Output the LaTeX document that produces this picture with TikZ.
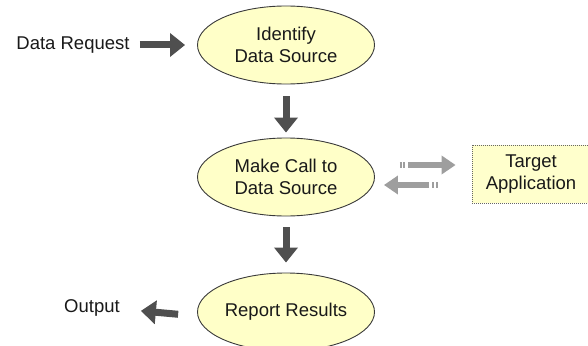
\documentclass[tikz,border=0pt]{standalone}
\usepackage{fontspec}
\setmainfont{Liberation Sans}
\usetikzlibrary{shapes.geometric,arrows.meta}
\definecolor{ellfill}{HTML}{FFFFC8}
\definecolor{boxfill}{HTML}{FFFFCC}
\definecolor{darkarrow}{HTML}{4F4F4F}
\definecolor{greyarrow}{HTML}{9E9E9E}
\definecolor{edge}{HTML}{3A3A3A}
\tikzset{
  txt/.style={font=\fontsize{18.5}{22}\selectfont, text=black!90, align=center},
  stepell/.style={ellipse, draw=edge, line width=0.9pt, fill=ellfill, minimum width=177pt, minimum height=78pt, inner sep=0pt, txt},
  tgtbox/.style={draw=black!60, line width=0.8pt, dash pattern=on 1pt off 1pt, fill=boxfill, minimum width=118pt, minimum height=58pt, inner sep=0pt, txt},
  darkarr/.style={draw=darkarrow, line width=7pt, -{Triangle[width=23pt,length=15pt]}},
  greyarr/.style={draw=greyarrow, line width=6pt, dash pattern=on 2pt off 1.5pt on 2pt off 3pt on 300pt, -{Triangle[width=18pt,length=14pt]}}
}
\begin{document}
\begin{tikzpicture}[x=1pt,y=-1pt]
\useasboundingbox (0,0) rectangle (588,345);
\node[stepell] (e1) at (286,45) {Identify\\Data Source};
\node[stepell] (e2) at (286,177) {Make Call to\\Data Source};
\node[stepell] (e3) at (286,312) {Report Results};
\node[txt, inner sep=0pt] (req) at (73,45) {Data Request};
\node[txt, inner sep=0pt] (out) at (92,308) {Output};
\node[tgtbox] (tgt) at (531,174) {Target\\Application};
\draw[darkarr, shorten <=10pt, shorten >=12pt] (req.east) -- (e1.west);
\draw[darkarr, shorten <=12pt, shorten >=5pt] (e1.south) -- (e2.north);
\draw[darkarr, shorten <=11pt, shorten >=10pt] (e2.south) -- (e3.north);
\draw[darkarr, shorten <=19pt, shorten >=21pt] ([yshift=-4pt]e3.west) -- ([yshift=-1pt]out.east);
\draw[greyarr, shorten <=25pt, shorten >=16pt] ([yshift=12pt]e2.east) -- ([yshift=9pt]tgt.west);
\draw[greyarr, shorten <=34pt, shorten >=9pt] ([yshift=-11pt]tgt.west) -- ([yshift=-8pt]e2.east);
\end{tikzpicture}
\end{document}
